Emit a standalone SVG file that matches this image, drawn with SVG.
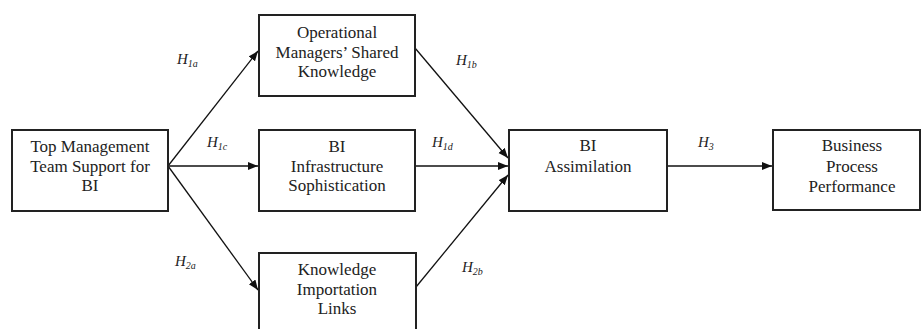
<svg xmlns="http://www.w3.org/2000/svg" width="921" height="329" viewBox="0 0 921 329">
<style>
.box{fill:#fff;stroke:#222;stroke-width:2}
.t{font-family:"Liberation Serif","Times New Roman",serif;font-size:17px;fill:#222;text-anchor:middle}
.h{font-family:"Liberation Serif","Times New Roman",serif;font-style:italic;font-size:15px;fill:#222}
.s{font-size:10px}
.c{stroke:#111;stroke-width:1.3;fill:none;marker-end:url(#ah)}
</style>
<defs>
<marker id="ah" markerUnits="userSpaceOnUse" markerWidth="12" markerHeight="10" refX="10" refY="4" orient="auto">
<path d="M0,0 L10,4 L0,8 Z" fill="#111"/>
</marker>
</defs>
<rect width="921" height="329" fill="#fff"/>
<g id="connectors">
<line class="c" x1="168" y1="166" x2="258" y2="51"/>
<line class="c" x1="168" y1="166" x2="258" y2="166"/>
<line class="c" x1="168" y1="166" x2="258" y2="290"/>
<line class="c" x1="415" y1="48" x2="508" y2="158"/>
<line class="c" x1="415" y1="166" x2="508" y2="166"/>
<line class="c" x1="416" y1="287" x2="508" y2="175"/>
<line class="c" x1="667" y1="166" x2="772" y2="166"/>
</g>
<g id="labels">
<text class="h" x="177" y="64">H<tspan class="s" dy="3">1a</tspan></text>
<text class="h" x="207" y="147">H<tspan class="s" dy="3">1c</tspan></text>
<text class="h" x="175" y="266">H<tspan class="s" dy="3">2a</tspan></text>
<text class="h" x="456" y="65">H<tspan class="s" dy="3">1b</tspan></text>
<text class="h" x="432" y="147">H<tspan class="s" dy="3">1d</tspan></text>
<text class="h" x="462" y="272">H<tspan class="s" dy="3">2b</tspan></text>
<text class="h" x="698" y="147">H<tspan class="s" dy="3">3</tspan></text>
</g>
<g id="n-top">
<rect class="box" x="12" y="130" width="156" height="81"/>
<text class="t" x="90" y="152">Top Management</text>
<text class="t" x="90" y="172">Team Support for</text>
<text class="t" x="90" y="191">BI</text>
</g>
<g id="n-oper">
<rect class="box" x="259" y="15" width="156" height="81"/>
<text class="t" x="337" y="38">Operational</text>
<text class="t" x="337" y="58">Managers’ Shared</text>
<text class="t" x="337" y="77">Knowledge</text>
</g>
<g id="n-infra">
<rect class="box" x="259" y="130" width="156" height="81"/>
<text class="t" x="337" y="152">BI</text>
<text class="t" x="337" y="172">Infrastructure</text>
<text class="t" x="337" y="191">Sophistication</text>
</g>
<g id="n-know">
<rect class="box" x="259" y="253" width="157" height="90"/>
<text class="t" x="337" y="275">Knowledge</text>
<text class="t" x="337" y="295">Importation</text>
<text class="t" x="337" y="314">Links</text>
</g>
<g id="n-assim">
<rect class="box" x="509" y="130" width="158" height="81"/>
<text class="t" x="588" y="151">BI</text>
<text class="t" x="588" y="172">Assimilation</text>
</g>
<g id="n-bpp">
<rect class="box" x="773" y="130" width="147" height="80"/>
<text class="t" x="852" y="151">Business</text>
<text class="t" x="852" y="172">Process</text>
<text class="t" x="852" y="192">Performance</text>
</g>
</svg>
